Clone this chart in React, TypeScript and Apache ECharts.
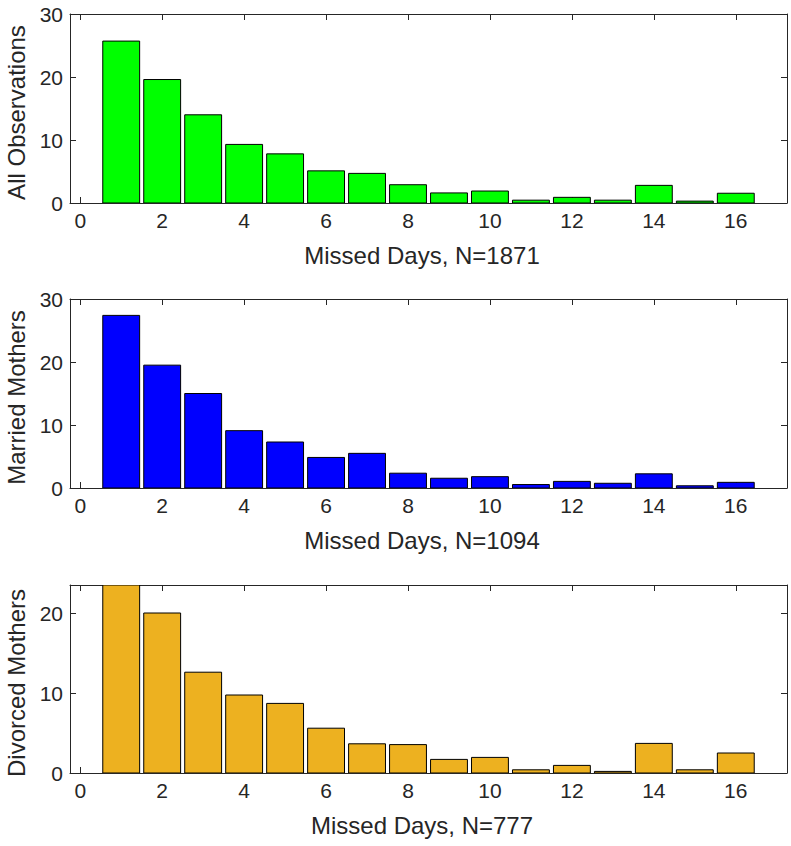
import React, { useEffect, useRef } from "react";
import * as echarts from "echarts";

const days = [1, 2, 3, 4, 5, 6, 7, 8, 9, 10, 11, 12, 13, 14, 15, 16];
const allObs = [25.7, 19.6, 14.0, 9.3, 7.8, 5.1, 4.7, 2.9, 1.6, 1.9, 0.45, 0.9, 0.45, 2.8, 0.3, 1.55];
const married = [27.4, 19.5, 15.0, 9.1, 7.3, 4.85, 5.5, 2.35, 1.55, 1.8, 0.55, 1.05, 0.75, 2.25, 0.35, 0.9];
const divorced = [23.5, 20.0, 12.6, 9.75, 8.7, 5.6, 3.65, 3.55, 1.7, 1.95, 0.4, 0.95, 0.2, 3.7, 0.4, 2.5];
const xTicks = [0, 2, 4, 6, 8, 10, 12, 14, 16];
const yTicksFull = [0, 10, 20, 30];
const yTicksDivorced = [0, 10, 20];
const panelNames = ["All Observations", "Married Mothers", "Divorced Mothers"];
const xNames = ["Missed Days, N=1871", "Missed Days, N=1094", "Missed Days, N=777"];
const yMaxes = [30, 30, 23.5];
const colors = ["#00FF00", "#0000FF", "#EDB120"];

const AXIS = "#262626";
const FONT = "Liberation Sans";

export default function App() {
  const ref = useRef<HTMLDivElement>(null);
  useEffect(() => {
    if (!ref.current) return;
    const chart = echarts.init(ref.current, undefined, { renderer: "svg" });
    const datasets = [allObs, married, divorced];
    const yTicks = [yTicksFull, yTicksFull, yTicksDivorced];
    const grids = [
      { left: 70, top: 14, width: 717, height: 189, outerBoundsMode: "none", containLabel: false },
      { left: 70, top: 299, width: 717, height: 189, outerBoundsMode: "none", containLabel: false },
      { left: 70, top: 585, width: 717, height: 188, outerBoundsMode: "none", containLabel: false },
    ];
    const xAxis: any[] = [];
    const yAxis: any[] = [];
    const series: any[] = [];
    grids.forEach((g, i) => {
      const common = {
        type: "value",
        gridIndex: i,
        axisLine: { show: true, onZero: false, lineStyle: { color: AXIS, width: 1 } },
        splitLine: { show: false },
      };
      xAxis.push({
        ...common,
        position: "bottom",
        min: -0.25,
        max: 17.25,
        name: xNames[i],
        nameLocation: "middle",
        nameGap: 40,
        nameTextStyle: { color: AXIS, fontFamily: FONT, fontSize: 24, padding: [0, 13, 0, 0] },
        axisTick: { show: true, inside: true, length: 6, customValues: xTicks, lineStyle: { color: AXIS } },
        axisLabel: { show: true, customValues: xTicks, margin: 7, color: AXIS, fontFamily: FONT, fontSize: 21 },
      });
      xAxis.push({
        ...common,
        position: "top",
        min: -0.25,
        max: 17.25,
        axisTick: { show: true, inside: true, length: 6, customValues: xTicks, lineStyle: { color: AXIS } },
        axisLabel: { show: false, customValues: xTicks },
      });
      yAxis.push({
        ...common,
        position: "left",
        min: 0,
        max: yMaxes[i],
        name: panelNames[i],
        nameLocation: "middle",
        nameGap: 37,
        nameTextStyle: { color: AXIS, fontFamily: FONT, fontSize: 24, padding: [0, 8, 0, 0] },
        axisTick: { show: true, inside: true, length: 6, customValues: yTicks[i], lineStyle: { color: AXIS } },
        axisLabel: { show: true, customValues: yTicks[i], margin: 7, color: AXIS, fontFamily: FONT, fontSize: 21 },
      });
      yAxis.push({
        ...common,
        position: "right",
        min: 0,
        max: yMaxes[i],
        axisTick: { show: true, inside: true, length: 6, customValues: yTicks[i], lineStyle: { color: AXIS } },
        axisLabel: { show: false, customValues: yTicks[i] },
      });
      const color = colors[i];
      series.push({
        type: "custom",
        xAxisIndex: i * 2,
        yAxisIndex: i * 2,
        clip: true,
        data: days.map((d, k) => [d, datasets[i][k]]),
        renderItem: (params: any, api: any) => {
          const x = api.value(0);
          const y = api.value(1);
          const p0 = api.coord([x - 0.45, y]);
          const p1 = api.coord([x + 0.45, 0]);
          return {
            type: "rect",
            shape: { x: p0[0], y: p0[1], width: p1[0] - p0[0], height: p1[1] - p0[1] },
            style: { fill: color, stroke: "#000000", lineWidth: 1 },
          };
        },
        z: 1,
      });
    });
    chart.setOption({
      animation: false,
      backgroundColor: "#FFFFFF",
      grid: grids,
      xAxis,
      yAxis,
      series,
    });
    return () => chart.dispose();
  }, []);
  return (
    <div
      ref={ref}
      style={{ position: "fixed", left: 0, top: 0, width: 791, height: 846, background: "#fff" }}
    />
  );
}
